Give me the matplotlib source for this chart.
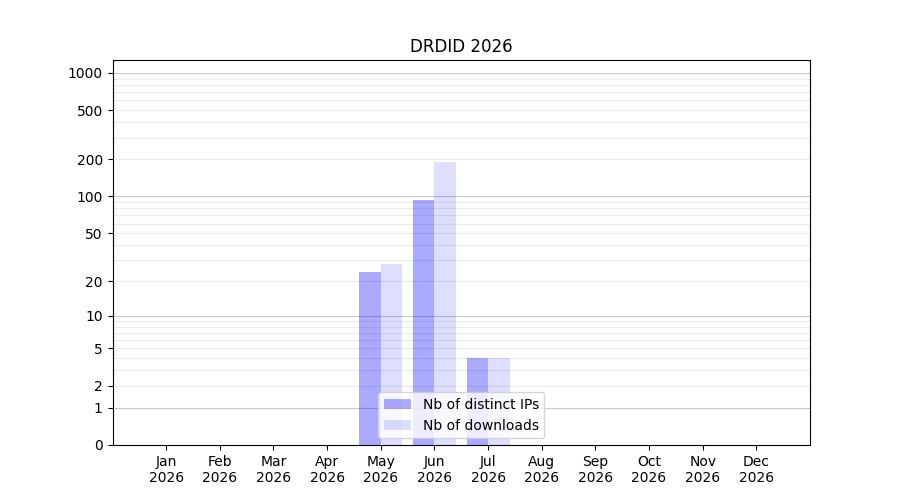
import numpy as np
from matplotlib import pyplot as plt

months = ['Jan', 'Feb', 'Mar', 'Apr', 'May', 'Jun', 'Jul', 'Aug', 'Sep', 'Oct', 'Nov', 'Dec']
year = 2026
distinct_ips = [0, 0, 0, 0, 24, 94, 4, 0, 0, 0, 0, 0]
downloads = [0, 0, 0, 0, 28, 190, 4, 0, 0, 0, 0, 0]
ytick_vals = [0, 1, 2, 5, 10, 20, 50, 100, 200, 500, 1000]
major_grid = [1, 10, 100, 1000]
minor_grid = [m * d for d in (1, 10, 100) for m in range(2, 10)]

def fwd(v):
    return np.log10(1 + np.asarray(v, dtype=float))

def inv(v):
    return 10 ** np.asarray(v, dtype=float) - 1

fig, ax = plt.subplots(figsize=(9, 5), dpi=100)
x = np.arange(len(months))
w = 0.4

for g in minor_grid:
    ax.axhline(g, color='#ebebeb', linewidth=0.8, zorder=0)
for g in major_grid:
    ax.axhline(g, color='#c8c8c8', linewidth=0.8, zorder=0)

ax.bar(x - w/2, distinct_ips, width=w, color='blue', alpha=0.333, label='Nb of distinct IPs', zorder=2)
ax.bar(x + w/2, downloads, width=w, color='blue', alpha=0.13, label='Nb of downloads', zorder=2)

ax.set_yscale('function', functions=(fwd, inv))
ax.set_ylim(0, 1270)
ax.set_yticks(ytick_vals)
ax.set_yticklabels([str(v) for v in ytick_vals])
ax.minorticks_off()
ax.set_xlim(-1, 12)
ax.set_xticks(x)
ax.set_xticklabels([f'{m}\n{year}' for m in months])
ax.set_title(f'DRDID {year}')
ax.legend(loc='lower center')

fig.savefig('out.png')
